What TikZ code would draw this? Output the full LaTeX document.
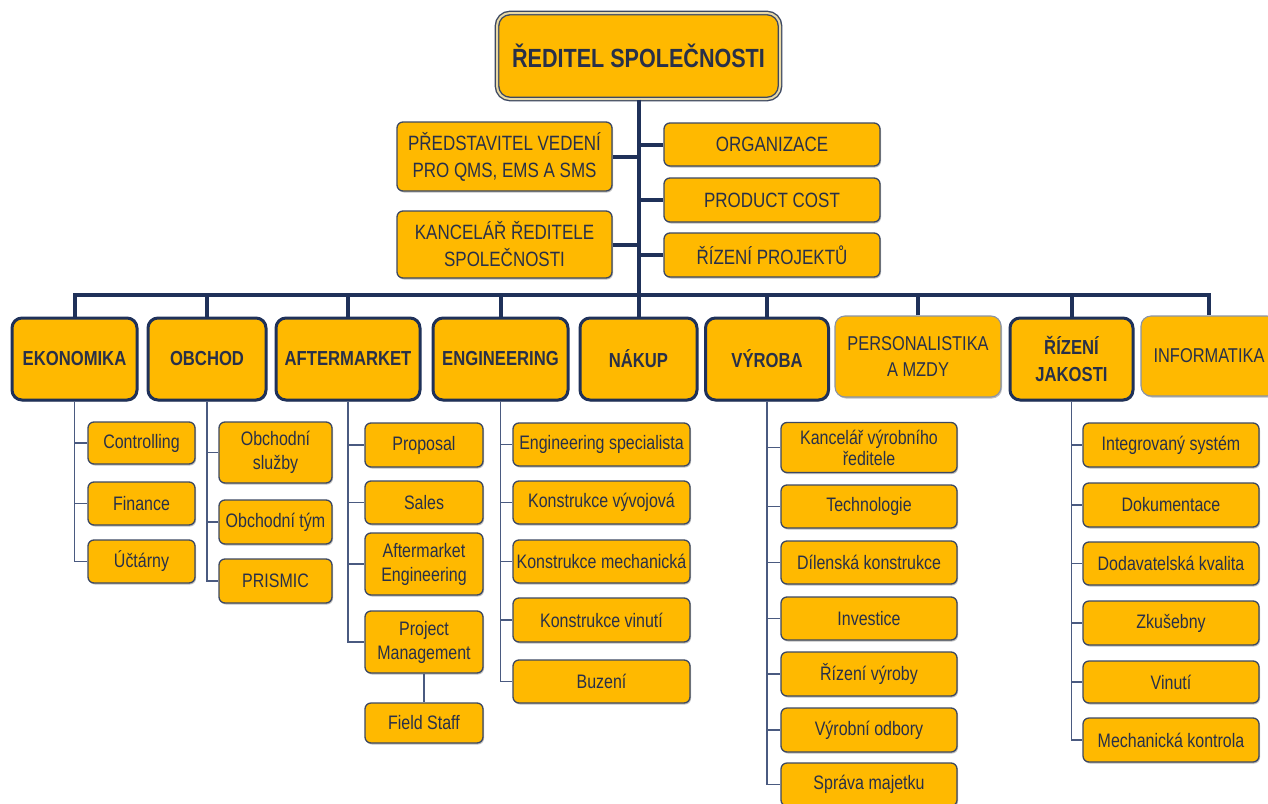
\documentclass[tikz,border=0pt]{standalone}
\usepackage{fontspec}
\setmainfont{Liberation Sans}[FakeStretch=0.82]
\usetikzlibrary{shadows}

\definecolor{gold}{HTML}{FFB900}
\definecolor{ink}{HTML}{283049}
\definecolor{navy}{HTML}{1F3159}
\definecolor{edge}{HTML}{3C4862}
\definecolor{branchc}{HTML}{4A5A80}
\definecolor{pale}{HTML}{8A93A6}
\definecolor{cream}{HTML}{E9D9A6}

\tikzset{
  box/.style={rounded corners=6pt, fill=gold, draw=edge, line width=1.3pt,
    text=ink, align=center, inner sep=0pt,
    drop shadow={shadow xshift=1pt, shadow yshift=-1.5pt, opacity=0.25, fill=black}},
  sub/.style={box, font=\fontsize{19.5}{24}\selectfont},
  staff/.style={box, font=\fontsize{20.7}{27}\selectfont},
  dept/.style={box, rounded corners=10pt, line width=3pt, draw=navy,
    font=\bfseries\fontsize{20.3}{27}\selectfont},
  deptthin/.style={box, rounded corners=10pt, line width=1.1pt, draw=pale,
    font=\fontsize{20}{26}\selectfont},
  ceobox/.style={box, rounded corners=13pt, draw=edge, line width=1.4pt,
    double=cream, double distance=2pt,
    font=\bfseries\fontsize{26.3}{30}\selectfont},
  trunk/.style={draw=navy, line width=4pt},
  branch/.style={draw=branchc, line width=1.6pt},
}

\begin{document}
\begin{tikzpicture}[x=1pt, y=-1pt]
\useasboundingbox (0,0) rectangle (1268,803);

% director
\node[ceobox, minimum width=283pt, minimum height=86pt] (ceo) at (638.5,56) {ŘEDITEL SPOLEČNOSTI};

% staff units
\node[staff, minimum width=215pt, minimum height=69pt] (pred) at (504.5,156.5) {PŘEDSTAVITEL VEDENÍ\\PRO QMS, EMS A SMS};
\node[staff, minimum width=215pt, minimum height=67pt] (kanc) at (504.5,244.5) {KANCELÁŘ ŘEDITELE\\SPOLEČNOSTI};
\node[staff, minimum width=216pt, minimum height=43pt] (org) at (772,144.5) {ORGANIZACE};
\node[staff, minimum width=216pt, minimum height=44pt] (pcost) at (772,200) {PRODUCT COST};
\node[staff, minimum width=216pt, minimum height=44pt] (rproj) at (772,255) {ŘÍZENÍ PROJEKTŮ};

% departments
\node[dept, minimum width=125pt, minimum height=82pt] (eko) at (74.5,359) {EKONOMIKA};
\node[dept, minimum width=118pt, minimum height=82pt] (obch) at (207,359) {OBCHOD};
\node[dept, minimum width=144pt, minimum height=82pt] (aft) at (348,359) {AFTERMARKET};
\node[dept, minimum width=135pt, minimum height=82pt] (eng) at (500.5,359) {ENGINEERING};
\node[dept, minimum width=117pt, minimum height=82pt] (nak) at (638.5,359) {NÁKUP};
\node[dept, minimum width=123pt, minimum height=82pt] (vyr) at (767,359) {VÝROBA};
\node[deptthin, minimum width=166pt, minimum height=81pt] (pers) at (918,356.5) {PERSONALISTIKA\\A MZDY};
\node[dept, minimum width=123pt, minimum height=82pt] (jak) at (1071.5,359) {ŘÍZENÍ\\JAKOSTI};
\node[deptthin, minimum width=136pt, minimum height=80pt] (info) at (1209,356) {INFORMATIKA};

% EKONOMIKA
\node[sub, minimum width=107pt, minimum height=42pt] (eko1) at (141.5,443) {Controlling};
\node[sub, minimum width=107pt, minimum height=43pt] (eko2) at (141.5,503.5) {Finance};
\node[sub, minimum width=107pt, minimum height=43pt] (eko3) at (141.5,561.5) {Účtárny};

% OBCHOD
\node[sub, minimum width=113pt, minimum height=61pt] (obch1) at (275.5,452.5) {Obchodní\\služby};
\node[sub, minimum width=113pt, minimum height=44pt] (obch2) at (275.5,522) {Obchodní tým};
\node[sub, minimum width=113pt, minimum height=44pt] (obch3) at (275.5,581) {PRISMIC};

% AFTERMARKET
\node[sub, minimum width=118pt, minimum height=44pt] (aft1) at (424,445) {Proposal};
\node[sub, minimum width=118pt, minimum height=43pt] (aft2) at (424,502.5) {Sales};
\node[sub, minimum width=118pt, minimum height=62pt] (aft3) at (424,564) {Aftermarket\\Engineering};
\node[sub, minimum width=118pt, minimum height=62pt] (aft4) at (424,642) {Project\\Management};
\node[sub, minimum width=118pt, minimum height=40pt] (aft5) at (424,723) {Field Staff};

% ENGINEERING
\node[sub, minimum width=177pt, minimum height=43pt] (eng1) at (601.5,444.5) {Engineering specialista};
\node[sub, minimum width=177pt, minimum height=43pt] (eng2) at (601.5,502.5) {Konstrukce vývojová};
\node[sub, minimum width=177pt, minimum height=43pt] (eng3) at (601.5,561.5) {Konstrukce mechanická};
\node[sub, minimum width=177pt, minimum height=44pt] (eng4) at (601.5,620) {Konstrukce vinutí};
\node[sub, minimum width=177pt, minimum height=43pt] (eng5) at (601.5,681.5) {Buzení};

% VÝROBA
\node[sub, minimum width=176pt, minimum height=50pt, font=\fontsize{19.5}{21}\selectfont] (vyr1) at (869,447.5) {Kancelář výrobního\\ředitele};
\node[sub, minimum width=176pt, minimum height=43pt] (vyr2) at (869,506.5) {Technologie};
\node[sub, minimum width=176pt, minimum height=43pt] (vyr3) at (869,562.5) {Dílenská konstrukce};
\node[sub, minimum width=176pt, minimum height=43pt] (vyr4) at (869,618.5) {Investice};
\node[sub, minimum width=176pt, minimum height=44pt] (vyr5) at (869,674) {Řízení výroby};
\node[sub, minimum width=176pt, minimum height=44pt] (vyr6) at (869,730) {Výrobní odbory};
\node[sub, minimum width=176pt, minimum height=43pt] (vyr7) at (869,784.5) {Správa majetku};

% ŘÍZENÍ JAKOSTI
\node[sub, minimum width=176pt, minimum height=44pt] (jak1) at (1171,445) {Integrovaný systém};
\node[sub, minimum width=176pt, minimum height=44pt] (jak2) at (1171,505) {Dokumentace};
\node[sub, minimum width=176pt, minimum height=43pt] (jak3) at (1171,563.5) {Dodavatelská kvalita};
\node[sub, minimum width=176pt, minimum height=44pt] (jak4) at (1171,623) {Zkušebny};
\node[sub, minimum width=176pt, minimum height=42pt] (jak5) at (1171,682) {Vinutí};
\node[sub, minimum width=176pt, minimum height=44pt] (jak6) at (1171,740) {Mechanická kontrola};

% main trunk, staff links and department bus
\coordinate (bus) at (638.5,295);
\draw[trunk] (ceo.south) -- (nak.north);
\draw[trunk] (pred.east) -- (pred.east -| ceo.south);
\draw[trunk] (kanc.east) -- (kanc.east -| ceo.south);
\draw[trunk] (org.west) -- (org.west -| ceo.south);
\draw[trunk] (pcost.west) -- (pcost.west -| ceo.south);
\draw[trunk] (rproj.west) -- (rproj.west -| ceo.south);
\draw[trunk, line join=miter] (eko.north) -- (eko.north |- bus) -- (info.north |- bus) -- (info.north);
\foreach \d in {obch,aft,eng,vyr,pers,jak}
  \draw[trunk] (\d.north) -- (\d.north |- bus);

% department branches
\foreach \c in {eko1,eko2,eko3} \draw[branch] (eko.south) |- (\c.west);
\foreach \c in {obch1,obch2,obch3} \draw[branch] (obch.south) |- (\c.west);
\foreach \c in {aft1,aft2,aft3,aft4} \draw[branch] (aft.south) |- (\c.west);
\draw[branch] (aft4.south) -- (aft5.north);
\foreach \c in {eng1,eng2,eng3,eng4,eng5} \draw[branch] (eng.south) |- (\c.west);
\foreach \c in {vyr1,vyr2,vyr3,vyr4,vyr5,vyr6,vyr7} \draw[branch] (vyr.south) |- (\c.west);
\foreach \c in {jak1,jak2,jak3,jak4,jak5,jak6} \draw[branch] (jak.south) |- (\c.west);
\end{tikzpicture}
\end{document}
